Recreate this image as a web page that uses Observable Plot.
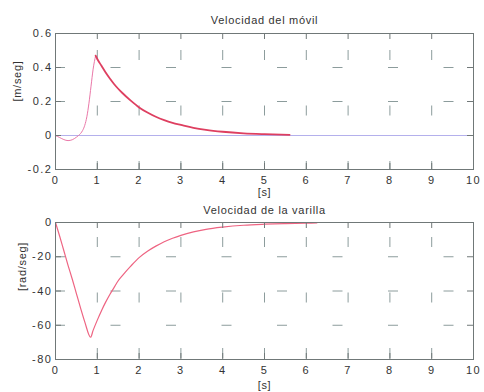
<!DOCTYPE html>
<html><head><meta charset="utf-8">
<script src="https://cdn.jsdelivr.net/npm/d3@7"></script>
<script src="https://cdn.jsdelivr.net/npm/@observablehq/plot@0.6"></script>
<style>
body{margin:0;background:#fff;}
#wrap{position:relative;width:484px;height:392px;}
#wrap svg{position:absolute;left:0;}
#wrap g[aria-label="x-axis tick label"] text,
#wrap g[aria-label="y-axis tick label"] text{letter-spacing:1.5px;}
#wrap g[aria-label="text"] text{letter-spacing:0.7px;}
</style></head><body><div id="wrap"></div>
<script>
// ---- data ----
const xTicks = [0,1,2,3,4,5,6,7,8,9,10];
const topYTicks = [-0.2,0,0.2,0.4,0.6];
const botYTicks = [-80,-60,-40,-20,0];
const titles = ["Velocidad del móvil","Velocidad de la varilla"];
const yLabels = ["[m/seg]","[rad/seg]"];
const xLabel = "[s]";

const movilT = [0,0.1,0.2,0.3,0.4,0.5,0.55,0.6,0.65,0.7,0.75,0.8,0.85,0.9,0.96,1.0,1.1,1.2,1.3,1.4,1.5,1.6,1.8,2.0,2.2,2.4,2.6,2.8,3.0,3.3,3.6,4.0,4.5,5.0,5.6];
const movilV = [0,-0.012,-0.024,-0.03,-0.025,-0.01,0,0.012,0.03,0.06,0.11,0.19,0.29,0.39,0.47,0.45,0.41,0.37,0.335,0.303,0.275,0.25,0.205,0.165,0.135,0.11,0.09,0.074,0.062,0.045,0.033,0.022,0.013,0.008,0.004];
const movilPeakT = 0.96;
const zeroT = [0,10];
const zeroV = [0,0];

const varillaT = [0,0.1,0.2,0.3,0.4,0.5,0.6,0.7,0.84,0.9,1.0,1.1,1.2,1.3,1.4,1.5,1.6,1.8,2.0,2.2,2.4,2.6,2.8,3.0,3.3,3.6,4.0,4.5,5.0,5.5,6.0,6.25];
const varillaV = [0,-8,-16.5,-25,-33,-41.5,-50,-58,-67,-63,-57,-51.5,-46.5,-42,-38,-34,-31,-25.5,-20.5,-16.8,-13.8,-11.2,-9.2,-7.5,-5.5,-4,-2.7,-1.6,-1.0,-0.6,-0.35,-0.3];

const FONT = "Liberation Sans, Arial, sans-serif";
const gridColor = "#8c9c9c";
const frameColor = "#707878";
const textColor = "#333";

function panel({top, height, mt, mb, yDomain, yTicks, lines, title, o, ylab, yInner}) {
  const ml = 55, mr = 11, W = 484;
  const pw = W - ml - mr, ph = height - mt - mb;
  const tk = 6;
  const svg = Plot.plot({
    width: W, height, marginLeft: ml, marginRight: mr, marginTop: mt, marginBottom: mb,
    style: {fontFamily: FONT, fontSize: "11px", color: textColor, background: "transparent", overflow: "visible"},
    x: {domain: [0,10], axis: null},
    y: {domain: yDomain, axis: null},
    marks: [
      Plot.ruleX(xTicks.slice(1,-1), {x: d => d, stroke: gridColor, strokeWidth: 1, strokeDasharray: "10,45.5", strokeDashoffset: -o.gridOff}),
      Plot.ruleY(yInner, {y: d => d, stroke: gridColor, strokeWidth: 1, strokeDasharray: "10,45.5"}),
      ...lines,
      Plot.tickX(xTicks, {x: d => d, insetTop: ph - tk, stroke: frameColor}),
      Plot.tickX(xTicks, {x: d => d, insetBottom: ph - tk, stroke: frameColor}),
      Plot.tickY(yTicks, {y: d => d, insetRight: pw - tk, stroke: frameColor}),
      Plot.tickY(yTicks, {y: d => d, insetLeft: pw - tk, stroke: frameColor}),
      Plot.frame({stroke: frameColor}),
      Plot.axisX(xTicks, {x: d => d, tickSize: 0, tickPadding: 7, label: null, tickFormat: d => String(d), fill: textColor}),
      Plot.axisY(yTicks, {y: d => d, tickSize: 0, tickPadding: 3, label: null, tickFormat: d => String(d), fill: textColor}),
      Plot.text([title], {frameAnchor: "top", dy: o.t, text: d => d, fill: textColor, fontSize: 11}),
      Plot.text([ylab], {frameAnchor: "left", dx: o.yl, rotate: -90, text: d => d, fill: textColor, fontSize: 11}),
      Plot.text([xLabel], {frameAnchor: "bottom", dy: o.xl, text: d => d, fill: textColor, fontSize: 11})
    ]
  });
  svg.style.top = top + "px";
  return svg;
}

const wrap = document.getElementById("wrap");
wrap.appendChild(panel({
  top: 0, height: 195, mt: 33, mb: 26,
  yDomain: [-0.2, 0.6], yTicks: topYTicks, yInner: [0.2, 0.4],
  lines: [
    Plot.line(zeroV, {x: zeroT, y: zeroV, stroke: "#b4b0ec", strokeWidth: 1.2}),
    Plot.line(movilV, {x: movilT, y: movilV, filter: (d, i) => movilT[i] <= movilPeakT, stroke: "#ea78a8", strokeWidth: 1, curve: "monotone-x"}),
    Plot.line(movilV, {x: movilT, y: movilV, filter: (d, i) => movilT[i] >= movilPeakT, stroke: "#de3f60", strokeWidth: 1.8, curve: "monotone-x"})
  ],
  title: titles[0], o: {t: -17, yl: -38, gridOff: 17, xl: 26}, ylab: yLabels[0]
}));
wrap.appendChild(panel({
  top: 195, height: 197, mt: 27, mb: 33,
  yDomain: [-80, 0], yTicks: botYTicks, yInner: [-60, -40, -20],
  lines: [
    Plot.line(varillaV, {x: varillaT, y: varillaV, stroke: "#ee6482", strokeWidth: 1.2, curve: "monotone-x"})
  ],
  title: titles[1], o: {t: -16, yl: -33, gridOff: 15, xl: 29}, ylab: yLabels[1]
}));
</script></body></html>
